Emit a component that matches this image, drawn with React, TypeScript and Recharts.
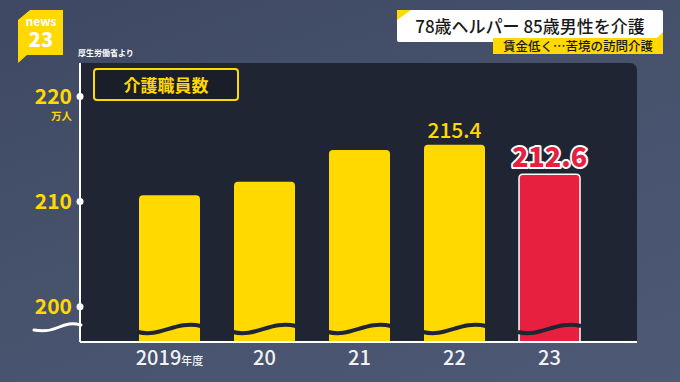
import React from "react";
import { BarChart, Bar, XAxis, YAxis, LabelList } from "recharts";

const years = ["2019", "20", "21", "22", "23"];
const workers = [210.6, 211.9, 214.9, 215.4, 212.6];
const yTicks = [200, 210, 220];
const shownLabels = [false, false, false, true, true];
const highlight = [false, false, false, false, true];

const data = years.map((y, i) => ({ year: y, value: workers[i] }));

const YELLOW = "#FFD900";
const RED = "#E8203F";
const PANEL = "#1F2532";
const FONT = '"Noto Sans CJK JP", "Noto Sans", sans-serif';

const BarShape = (props: any) => {
  const { x, y, width: w, height: h, index } = props;
  const hi = highlight[index];
  const r = 4;
  const bottom = y + h;
  const c = bottom - 13;
  const d = `M${x},${bottom} L${x},${y + r} Q${x},${y} ${x + r},${y} L${x + w - r},${y} Q${x + w},${y} ${x + w},${y + r} L${x + w},${bottom} Z`;
  return (
    <g>
      <path d={d} fill={hi ? RED : YELLOW} stroke={hi ? "#ffffff" : "none"} strokeWidth={hi ? 1.5 : 0} />
      <path
        d={`M${x - 1},${c + 3} C${x + 0.35 * w},${c + 9} ${x + 0.6 * w},${c - 9} ${x + w + 1},${c - 3}`}
        fill="none"
        stroke={PANEL}
        strokeWidth={4}
      />
    </g>
  );
};

const YTick = (props: any) => {
  const { x, y, payload } = props;
  return (
    <g>
      <circle cx={x + 8} cy={y} r={3.5} fill="#ffffff" />
      <text x={x} y={y + 7} textAnchor="end" fontSize={21} fontWeight={700} fill={YELLOW} fontFamily={FONT}>
        {payload.value}
      </text>
      {payload.value === 220 && (
        <text x={x} y={y + 23} textAnchor="end" fontSize={10.5} fontWeight={700} fill={YELLOW} fontFamily={FONT}>
          万人
        </text>
      )}
    </g>
  );
};

const XTick = (props: any) => {
  const { x, y, payload, index } = props;
  return (
    <text x={x} y={y + 19} textAnchor="middle" fontSize={20} fontWeight={500} fill="#f2f2f2" fontFamily={FONT}>
      {payload.value}
      {index === 0 && <tspan fontSize={11}>年度</tspan>}
    </text>
  );
};

const ValueLabel = (props: any) => {
  const { x, y, width, value, index } = props;
  if (!shownLabels[index]) return null;
  const hi = highlight[index];
  return (
    <text
      x={x + width / 2}
      y={y - 7}
      textAnchor="middle"
      fontSize={hi ? 27 : 21}
      fontWeight={hi ? 800 : 500}
      fill={hi ? RED : YELLOW}
      stroke={hi ? "#ffffff" : "none"}
      strokeWidth={hi ? 4 : 0}
      paintOrder="stroke"
      strokeLinejoin="round"
      fontFamily={FONT}
    >
      {value}
    </text>
  );
};

export default function App() {
  return (
    <div
      style={{
        position: "absolute",
        left: 0,
        top: 0,
        width: 680,
        height: 382,
        overflow: "hidden",
        background: "linear-gradient(160deg, #3e4862 0%, #47526d 50%, #4d5975 100%)",
        fontFamily: FONT,
      }}
    >
      {/* panel */}
      <div
        style={{
          position: "absolute",
          left: 80,
          top: 63,
          width: 557,
          height: 279,
          background: PANEL,
          borderTopRightRadius: 7,
        }}
      />
      {/* logo */}
      <svg style={{ position: "absolute", left: 0, top: 0 }} width={80} height={70}>
        <polygon points="18,20 30,10 63,10 63,55 27,55 18,63" fill={YELLOW} />
        <text x={41} y={25.5} textAnchor="middle" fontSize={12} fontWeight={700} fill="#ffffff" fontFamily={FONT}>
          news
        </text>
        <text x={41} y={47} textAnchor="middle" fontSize={20} fontWeight={800} fill="#ffffff" fontFamily={FONT}>
          23
        </text>
      </svg>
      <div
        style={{
          position: "absolute",
          left: 78,
          top: 48,
          fontSize: 8,
          color: "#ffffff",
          fontWeight: 700,
          whiteSpace: "nowrap",
          lineHeight: "10px",
        }}
      >
        厚生労働省より
      </div>
      {/* title */}
      <div
        style={{
          position: "absolute",
          left: 397,
          top: 10,
          width: 266,
          height: 32,
          background: "#ffffff",
          borderRadius: 2,
        }}
      />
      <svg style={{ position: "absolute", left: 0, top: 0 }} width={680} height={70}>
        <polygon points="397,10 411,10 397,20" fill={YELLOW} />
        <polygon points="663,32 663,42 653,42" fill={YELLOW} />
      </svg>
      <div
        style={{
          position: "absolute",
          left: 397,
          top: 10,
          width: 266,
          height: 32,
          lineHeight: "32px",
          textAlign: "center",
          fontSize: 17,
          fontWeight: 500,
          color: "#1a1a1a",
          whiteSpace: "nowrap",
        }}
      >
        78歳ヘルパー 85歳男性を介護
      </div>
      <div
        style={{
          position: "absolute",
          left: 493,
          top: 38,
          width: 170,
          height: 16,
          lineHeight: "16px",
          background: YELLOW,
          textAlign: "center",
          fontSize: 12.5,
          fontWeight: 500,
          color: "#1a1a1a",
          whiteSpace: "nowrap",
        }}
      >
        賃金低く…苦境の訪問介護
      </div>
      <BarChart
        width={680}
        height={382}
        data={data}
        margin={{ top: 63, right: 43, bottom: 10, left: 20 }}
        style={{ position: "absolute", left: 0, top: 0 }}
      >
        <XAxis
          dataKey="year"
          height={30}
          axisLine={{ stroke: "#ffffff", strokeWidth: 2 }}
          tickLine={false}
          tickSize={0}
          tickMargin={4}
          padding={{ left: 42, right: 40 }}
          tick={<XTick />}
          interval={0}
        />
        <YAxis
          width={60}
          domain={[196.64, 223.19]}
          allowDataOverflow={true}
          ticks={yTicks}
          axisLine={{ stroke: "#ffffff", strokeWidth: 2 }}
          tickLine={false}
          tickSize={0}
          tickMargin={8}
          tick={<YTick />}
          interval={0}
        />
        <Bar dataKey="value" barSize={61} shape={<BarShape />} isAnimationActive={false}>
          <LabelList dataKey="value" content={<ValueLabel />} />
        </Bar>
      </BarChart>
      {/* axis break on left */}
      <svg style={{ position: "absolute", left: 0, top: 0 }} width={100} height={382}>
        <path d="M34,330 C42,331.5 50,331 58,327.5 S72,322.5 81,325" fill="none" stroke="#ffffff" strokeWidth={3} strokeLinecap="round" />
      </svg>
      {/* label box */}
      <div
        style={{
          position: "absolute",
          left: 93,
          top: 68,
          width: 142,
          height: 29,
          border: `2px solid ${YELLOW}`,
          borderRadius: 4,
          background: "#191e29",
          color: YELLOW,
          fontSize: 17,
          fontWeight: 700,
          lineHeight: "29px",
          textAlign: "center",
          whiteSpace: "nowrap",
        }}
      >
        介護職員数
      </div>
    </div>
  );
}
